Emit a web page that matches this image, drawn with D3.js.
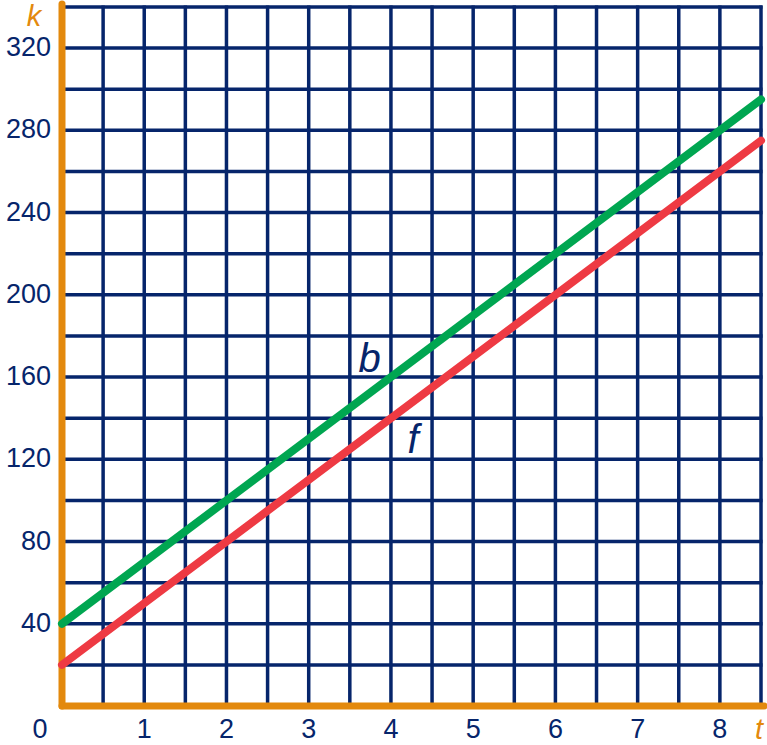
<!DOCTYPE html>
<html><head><meta charset="utf-8">
<script src="https://cdn.jsdelivr.net/npm/d3@7"></script>
<style>body{margin:0;background:#fff}svg{display:block}</style>
</head><body>
<script>
const xTicks = [1,2,3,4,5,6,7,8];
const yTicks = [40,80,120,160,200,240,280,320];
const xGrid = [0.5,1,1.5,2,2.5,3,3.5,4,4.5,5,5.5,6,6.5,7,7.5,8,8.5];
const yGrid = [20,40,60,80,100,120,140,160,180,200,220,240,260,280,300,320,340];
const tValues = [0, 8.5];
const bValues = [40, 295];
const fValues = [20, 275];
const lineLabels = [{name:"b", t:3.74, k:162.5}, {name:"f", t:4.27, k:123}];

const W = 767, H = 745;
const navy = "#06256b", orange = "#e3890d", green = "#00a651", red = "#ee3a43";
const x = d3.scaleLinear().domain([0, 8.5]).range([62, 761]);
const y = d3.scaleLinear().domain([0, 340]).range([706, 7]);

const svg = d3.select("body").append("svg").attr("width", W).attr("height", H)
  .style("font-family", "'Liberation Sans', Arial, sans-serif");

svg.append("g").selectAll("line").data(xGrid).join("line")
  .attr("x1", d => x(d)).attr("x2", d => x(d)).attr("y1", y(0)).attr("y2", y(340) - 1.5)
  .attr("stroke", navy).attr("stroke-width", 3.5);
svg.append("g").selectAll("line").data(yGrid).join("line")
  .attr("x1", x(0)).attr("x2", x(8.5) + 1.5).attr("y1", d => y(d)).attr("y2", d => y(d))
  .attr("stroke", navy).attr("stroke-width", 3.5);

// axes
svg.append("line").attr("x1", x(0)).attr("x2", x(0)).attr("y1", y(0)).attr("y2", y(340) - 3)
  .attr("stroke", orange).attr("stroke-width", 7).attr("stroke-linecap", "round");
svg.append("line").attr("x1", x(0)).attr("x2", x(8.5) + 3).attr("y1", y(0)).attr("y2", y(0))
  .attr("stroke", orange).attr("stroke-width", 7).attr("stroke-linecap", "round");

const line = d3.line().x(d => x(d[0])).y(d => y(d[1]));
[[bValues, green], [fValues, red]].forEach(([vals, col]) => {
  svg.append("path").datum(tValues.map((t, i) => [t, vals[i]])).attr("d", line)
    .attr("fill", "none").attr("stroke", col).attr("stroke-width", 8).attr("stroke-linecap", "round");
});

svg.append("g").selectAll("text").data(yTicks).join("text")
  .attr("x", 51).attr("y", d => y(d)).attr("dy", "0.3em").attr("text-anchor", "end")
  .attr("font-size", 27).attr("fill", navy).text(d => d);
svg.append("g").selectAll("text").data(xTicks).join("text")
  .attr("x", d => x(d)).attr("y", 738).attr("text-anchor", "middle")
  .attr("font-size", 27).attr("fill", navy).text(d => d);
svg.append("text").attr("x", 40).attr("y", 738).attr("text-anchor", "middle")
  .attr("font-size", 27).attr("fill", navy).text("0");

svg.append("text").attr("x", 34).attr("y", 26).attr("text-anchor", "middle")
  .attr("font-size", 29).attr("font-style", "italic").attr("fill", orange).text("k");
svg.append("text").attr("x", 759).attr("y", 739).attr("text-anchor", "middle")
  .attr("font-size", 29).attr("font-style", "italic").attr("fill", orange).text("t");

svg.append("g").selectAll("text").data(lineLabels).join("text")
  .attr("x", d => x(d.t)).attr("y", d => y(d.k)).attr("text-anchor", "middle")
  .attr("font-size", 40).attr("font-style", "italic").attr("fill", navy).text(d => d.name);
</script>
</body></html>
